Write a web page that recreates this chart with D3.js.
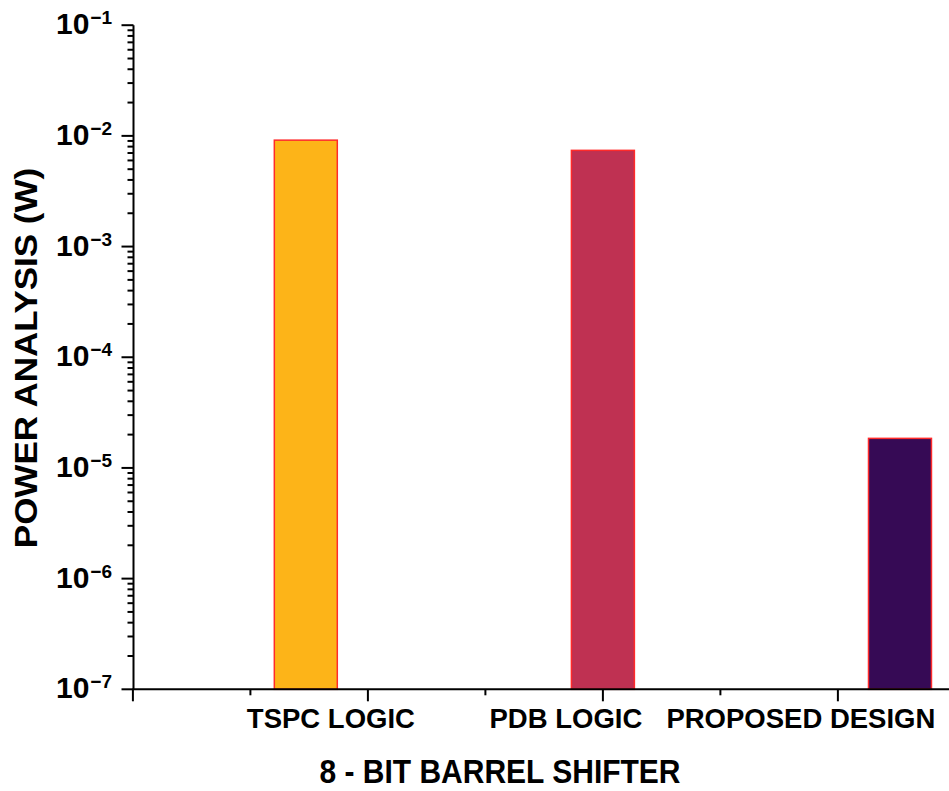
<!DOCTYPE html>
<html>
<head>
<meta charset="utf-8">
<script src="https://cdn.jsdelivr.net/npm/d3@7"></script>
<style>
  html, body { margin: 0; padding: 0; background: #fff; }
  text { font-family: "Liberation Sans", Arial, sans-serif; font-weight: bold; fill: #000; }
</style>
</head>
<body>
<svg id="chart" width="949" height="791"></svg>
<script>
const categories = ["TSPC LOGIC", "PDB LOGIC", "PROPOSED DESIGN"];
const powerValues = [9.15e-3, 7.4e-3, 1.85e-5];
const barColors = ["#FDB418", "#BF3152", "#360A55"];
const yTickExponents = [-1, -2, -3, -4, -5, -6, -7];
const xTitle = "8 - BIT BARREL SHIFTER";
const yTitle = "POWER ANALYSIS (W)";

const svg = d3.select("#chart");

const y = d3.scaleLog().domain([1e-7, 1e-1]).range([689.3, 25.2]);
const x = d3.scaleLinear().domain([0.42, 3.165]).range([133.5, 949]);
const barW = 0.212;
const majorStep = 0.791;
const xMajor = [-2, -1, 0, 1].map(k => 2 + k * majorStep);
const xMinor = [-1.5, -0.5, 0.5, 1.5].map(k => 2 + k * majorStep);

// Bars
svg.append("g").selectAll("rect").data(powerValues).join("rect")
  .attr("x", (d, i) => x(i + 1 - barW / 2))
  .attr("width", x(barW) - x(0))
  .attr("y", d => y(d))
  .attr("height", d => y(1e-7) - y(d))
  .attr("fill", (d, i) => barColors[i])
  .attr("stroke", "#FF2A2A")
  .attr("stroke-width", 1.5);

// Y axis
const yAxis = svg.append("g");
yAxis.append("line").attr("x1", x(0.42)).attr("x2", x(0.42))
  .attr("y1", y(1e-1)).attr("y2", y(1e-7)).attr("stroke", "#000").attr("stroke-width", 2);
const minorVals = [];
for (let e = -7; e < -1; e++) for (let m = 2; m <= 9; m++) minorVals.push(m * Math.pow(10, e));
yAxis.selectAll("line.minor").data(minorVals).join("line").attr("class", "minor")
  .attr("x1", x(0.42) - 6).attr("x2", x(0.42)).attr("y1", d => y(d)).attr("y2", d => y(d))
  .attr("stroke", "#000").attr("stroke-width", 2);
yAxis.selectAll("line.major").data(yTickExponents).join("line").attr("class", "major")
  .attr("x1", x(0.42) - 12).attr("x2", x(0.42)).attr("y1", d => y(Math.pow(10, d))).attr("y2", d => y(Math.pow(10, d)))
  .attr("stroke", "#000").attr("stroke-width", 2);
const yl = yAxis.selectAll("text.tick").data(yTickExponents).join("text").attr("class", "tick")
  .attr("x", 112).attr("y", d => y(Math.pow(10, d)) + 9)
  .attr("text-anchor", "end").attr("font-size", 30);
yl.append("tspan").text("10");
yl.append("tspan").attr("font-size", 19).attr("dy", -10).attr("dx", 1).text(d => "\u2212" + Math.abs(d));

// X axis
const xAxis = svg.append("g");
xAxis.append("line").attr("x1", x(0.42) - 1).attr("x2", 949).attr("y1", y(1e-7)).attr("y2", y(1e-7))
  .attr("stroke", "#000").attr("stroke-width", 2);
xAxis.selectAll("line.major").data(xMajor).join("line").attr("class", "major")
  .attr("x1", d => x(d)).attr("x2", d => x(d)).attr("y1", y(1e-7)).attr("y2", y(1e-7) + 12)
  .attr("stroke", "#000").attr("stroke-width", 2);
xAxis.selectAll("line.minor").data(xMinor).join("line").attr("class", "minor")
  .attr("x1", d => x(d)).attr("x2", d => x(d)).attr("y1", y(1e-7)).attr("y2", y(1e-7) + 6)
  .attr("stroke", "#000").attr("stroke-width", 2);
xAxis.selectAll("text.cat").data(categories).join("text").attr("class", "cat")
  .attr("x", (d, i) => x(xMajor[i + 1]) - 37).attr("y", 728)
  .attr("text-anchor", "middle").attr("font-size", 27.5).text(d => d);

// Titles
svg.append("text").attr("transform", "translate(500,783) scale(1,1.08)")
  .attr("text-anchor", "middle").attr("font-size", 30).text(xTitle);
svg.append("text").attr("transform", "translate(37,358) rotate(-90) scale(1,0.87)")
  .attr("text-anchor", "middle").attr("font-size", 35).text(yTitle);
</script>
</body>
</html>
